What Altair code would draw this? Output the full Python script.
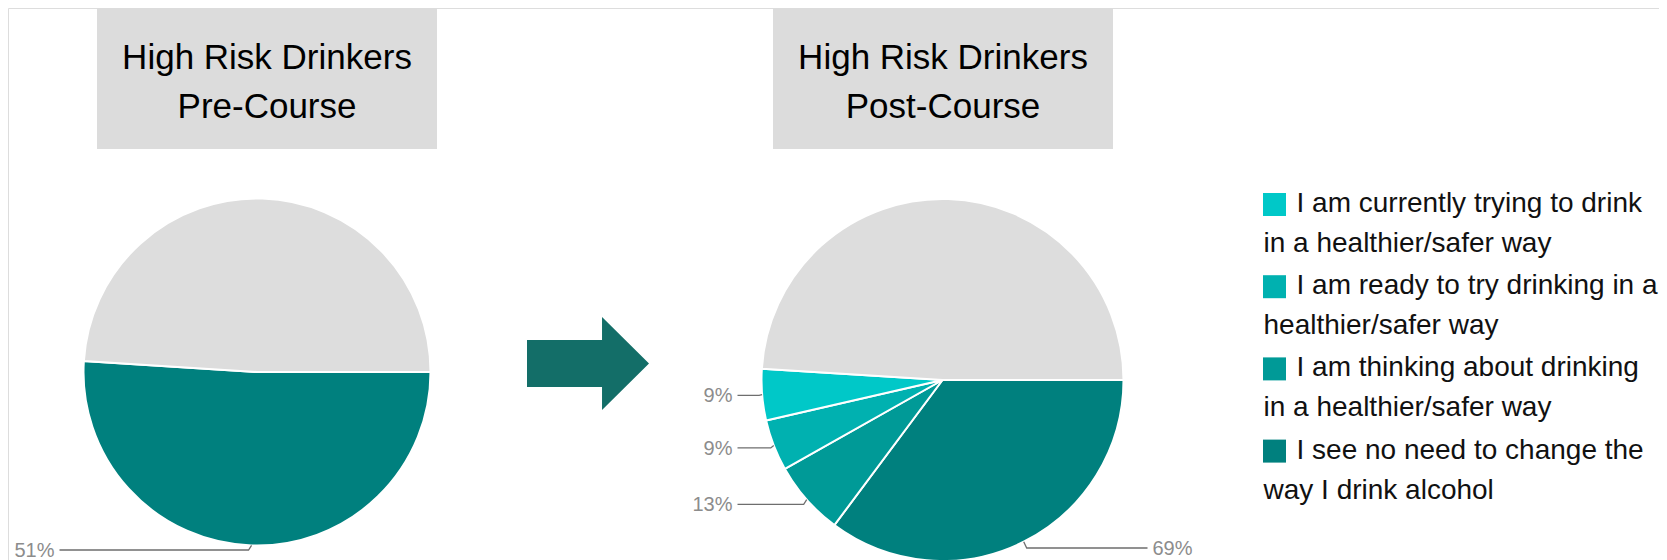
import math
import altair as alt
import pandas as pd

# ---------------- data ----------------
panel_titles = ["High Risk Drinkers\nPre-Course", "High Risk Drinkers\nPost-Course"]

categories = [
    "I see no need to change the way I drink alcohol",
    "I am thinking about drinking in a healthier/safer way",
    "I am ready to try drinking in a healthier/safer way",
    "I am currently trying to drink in a healthier/safer way",
]
cat_colors = ["#00807e", "#009a97", "#00b1b0", "#00c8c8"]

# Pre-course: share of the circle (%)
pre_values = [51]
# Post-course: label percentages (of the coloured half)
post_values = [69, 13, 9, 9]
post_coloured_share = 51   # % of circle covered by the coloured slices
rest_share = 49            # grey remainder (% of circle)
rest_color = "#dddddd"

legend_lines = [
    ("I am currently trying to drink", "in a healthier/safer way"),
    ("I am ready to try drinking in a", "healthier/safer way"),
    ("I am thinking about drinking", "in a healthier/safer way"),
    ("I see no need to change the", "way I drink alcohol"),
]
legend_colors = ["#00c8c8", "#00b1b0", "#009a97", "#00807e"]

# ---------------- layout ----------------
OFF = 8
W, H = 1651, 552
FONT = "Liberation Sans Narrow, Arial Narrow, Liberation Sans, Arial, sans-serif"
PIES = [dict(cx=257, cy=372, r=173.5), dict(cx=942.5, cy=380, r=181)]
BOXES = [dict(x=97, x2=437), dict(x=773, x2=1113)]
LABEL_MAX_Y = 550   # keep bottom labels inside the drawing (screen px)


def pie_frame(shares, labels, pie_id):
    rows = []
    for i, (s, lab) in enumerate(zip(shares, labels)):
        rows.append(dict(pie=pie_id, idx=i, cat=categories[i], color=cat_colors[i],
                         share=s, label=lab))
    rows.append(dict(pie=pie_id, idx=len(shares), cat="rest", color=rest_color,
                     share=rest_share, label=""))
    return pd.DataFrame(rows)


pre_df = pie_frame(pre_values, [f"{v}%" for v in pre_values], "pre")
post_df = pie_frame([v * post_coloured_share / 100 for v in post_values],
                    [f"{v}%" for v in post_values], "post")

# leader lines / labels derived from slice mid angles
lead_rows, lab_rows = [], []
for df, g in ((pre_df, PIES[0]), (post_df, PIES[1])):
    cum = 0.0
    for _, row in df.iterrows():
        if row["cat"] == "rest":
            continue
        f = (cum + row["share"] / 2) / 100
        cum += row["share"]
        a = math.pi / 2 + 2 * math.pi * f
        px = g["cx"] + g["r"] * math.sin(a)
        py = g["cy"] - g["r"] * math.cos(a)
        side = -1 if px < g["cx"] else 1
        ly = min(py + 7 * max(0.0, -math.cos(a)), LABEL_MAX_Y)
        key = f"{row['pie']}-{row['idx']}"
        pts = [(g["cx"] + side * (g["r"] + 24), ly), (px + side * 3, ly), (px, py)]
        for k, (xx, yy) in enumerate(pts):
            lead_rows.append(dict(key=key, step=k, x=xx - OFF, y=yy - OFF))
        lab_rows.append(dict(text=row["label"], x=g["cx"] + side * (g["r"] + 29) - OFF,
                             y=ly + 1 - OFF, align="right" if side < 0 else "left"))
lead_df = pd.DataFrame(lead_rows)
lab_df = pd.DataFrame(lab_rows)

titles_df = pd.DataFrame([
    dict(title=t, x=b["x"] - OFF, x2=b["x2"] - OFF, y=7 - OFF, y2=149 - OFF,
         tx=(b["x"] + b["x2"]) / 2 - OFF, ty=69 - OFF)
    for t, b in zip(panel_titles, BOXES)
])

leg_rows = []
for i, ((l1, l2), c) in enumerate(zip(legend_lines, legend_colors)):
    leg_rows.append(dict(l1=l1, l2=l2, color=c,
                         sx=1274.5 - OFF, sy=204.5 + i * 82.2 - OFF,
                         t1x=1296.5 - OFF, t2x=1263.5 - OFF,
                         t1y=212 + i * 82.2 - OFF, t2y=252 + i * 82.2 - OFF))
leg_df = pd.DataFrame(leg_rows)

# ---------------- chart ----------------
boxes = alt.Chart(titles_df).mark_rect(color="#dcdcdc").encode(
    x=alt.X("x:Q", scale=None), x2="x2:Q",
    y=alt.Y("y:Q", scale=None), y2="y2:Q")

title_text = alt.Chart(titles_df).mark_text(
    font=FONT, fontSize=35, color="#000000", baseline="alphabetic",
    align="center", lineBreak="\n", lineHeight=49).encode(
    x=alt.X("tx:Q", scale=None), y=alt.Y("ty:Q", scale=None), text="title:N")

theta_scale = alt.Scale(domain=[0, 100], range=[math.pi / 2, math.pi / 2 + 2 * math.pi])


def pie_layer(df, g):
    return alt.Chart(df).mark_arc(radius=g["r"], stroke="#ffffff", strokeWidth=2).encode(
        theta=alt.Theta("share:Q", stack=True, scale=theta_scale),
        order=alt.Order("idx:Q"),
        color=alt.Color("color:N", scale=None),
        x=alt.value(g["cx"] - OFF), y=alt.value(g["cy"] - OFF))


pre_pie = pie_layer(pre_df, PIES[0])
post_pie = pie_layer(post_df, PIES[1])

leaders = alt.Chart(lead_df).mark_line(color="#6e6e6e", strokeWidth=1.3).encode(
    x=alt.X("x:Q", scale=None), y=alt.Y("y:Q", scale=None),
    detail="key:N", order="step:Q")

labels_l = alt.Chart(lab_df).transform_filter("datum.align == 'right'").mark_text(
    font="Liberation Sans", fontSize=20, color="#8c8c8c", align="right", baseline="middle").encode(
    x=alt.X("x:Q", scale=None), y=alt.Y("y:Q", scale=None), text="text:N")
labels_r = alt.Chart(lab_df).transform_filter("datum.align == 'left'").mark_text(
    font="Liberation Sans", fontSize=20, color="#8c8c8c", align="left", baseline="middle").encode(
    x=alt.X("x:Q", scale=None), y=alt.Y("y:Q", scale=None), text="text:N")

arrow_path = "M -1 -0.385 L 0.23 -0.385 L 0.23 -0.762 L 1 0 L 0.23 0.762 L 0.23 0.385 L -1 0.385 Z"
arrow = alt.Chart(pd.DataFrame({"a": [1]})).mark_point(
    shape=arrow_path, filled=True, fill="#136e68", stroke="#136e68", strokeWidth=0,
    opacity=1, size=122 * 122).encode(
    x=alt.value(588 - OFF), y=alt.value(363.5 - OFF))

leg_sq = alt.Chart(leg_df).mark_square(size=23 * 23, opacity=1).encode(
    x=alt.X("sx:Q", scale=None), y=alt.Y("sy:Q", scale=None),
    color=alt.Color("color:N", scale=None))
leg_t1 = alt.Chart(leg_df).mark_text(
    font=FONT, fontSize=28, color="#111111", align="left", baseline="alphabetic").encode(
    x=alt.X("t1x:Q", scale=None), y=alt.Y("t1y:Q", scale=None), text="l1:N")
leg_t2 = alt.Chart(leg_df).mark_text(
    font=FONT, fontSize=28, color="#111111", align="left", baseline="alphabetic").encode(
    x=alt.X("t2x:Q", scale=None), y=alt.Y("t2y:Q", scale=None), text="l2:N")

chart = alt.layer(
    boxes, title_text, pre_pie, post_pie, leaders, labels_l, labels_r, arrow,
    leg_sq, leg_t1, leg_t2
).resolve_scale(theta="independent").properties(
    width=W, height=H, padding=0, autosize=alt.AutoSizeParams(type="none")
).configure_view(stroke=None).configure(background="#ffffff")

chart.save("out.html", embed_options={"renderer": "svg", "actions": False})
